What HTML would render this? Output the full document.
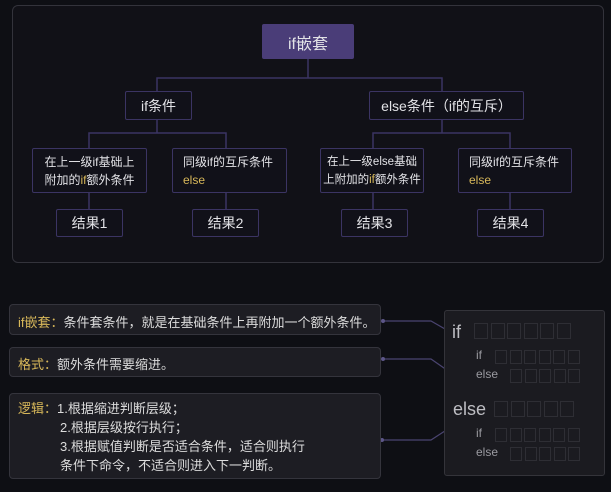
<!DOCTYPE html>
<html><head><meta charset="utf-8"><style>
*{margin:0;padding:0;box-sizing:border-box}
body{width:611px;height:492px;background:#0e0f14;position:relative;overflow:hidden;font-family:"Liberation Sans","Noto Sans CJK SC",sans-serif;color:#e2e2e6}
.a{position:absolute}
.n{position:absolute;border:1.5px solid #3b3463;background:#111119;display:flex;align-items:center;justify-content:center;text-align:center;border-radius:2px;white-space:nowrap}
.y{color:#d8b85a}
.bx{position:absolute;background:#1d1d23;border:1px solid #34343c;border-radius:4px;font-size:13px;color:#dcdcdc}
.sq{display:inline-block;border:1.5px solid #2e2e34;margin-right:2.5px;vertical-align:middle}
.g{color:#9a9aa0}
</style></head><body>
<div class="a" style="left:12px;top:5px;width:592px;height:258px;border:1px solid #33333b;border-radius:6px;background:#111117"></div>
<svg class="a" style="left:0;top:0" width="611" height="492">
<g stroke="#3b3463" stroke-width="1.5" fill="none">
<path d="M308 59V78M157 91V78H442V91"/>
<path d="M157 120V133M89 148V133H226V148"/>
<path d="M442 120V133M373 148V133H510V148"/>
<path d="M89 193V209M226 193V209M373 193V209M510 193V209"/>
</g>
<g stroke="#4a4470" stroke-width="1.2" fill="none">
<path d="M383 321H431L452 333"/>
<path d="M383 359H431L454 375"/>
<path d="M382 440H431L451 427"/>
</g>
<g fill="#5c5688">
<circle cx="383" cy="321" r="2"/><circle cx="452" cy="333" r="2"/>
<circle cx="383" cy="359" r="2"/><circle cx="454" cy="375" r="2"/>
<circle cx="382" cy="440" r="2"/><circle cx="451" cy="427" r="2"/>
</g>
</svg>
<div class="n" style="left:262px;top:24px;width:92px;height:35px;background:#4a3d78;border-color:#4a3d78;font-size:16px">if嵌套</div>
<div class="n" style="left:125px;top:91px;width:67px;height:29px;font-size:14px">if条件</div>
<div class="n" style="left:369px;top:91px;width:155px;height:29px;font-size:14px">else条件（if的互斥）</div>
<div class="n" style="left:32px;top:148px;width:115px;height:45px;font-size:12px;line-height:18px"><div>在上一级if基础上<br>附加的<span class="y">if</span>额外条件</div></div>
<div class="n" style="left:172px;top:148px;width:115px;height:45px;font-size:12px;line-height:18px;justify-content:flex-start;padding-left:10px;text-align:left"><div>同级if的互斥条件<br><span class="y">else</span></div></div>
<div class="n" style="left:320px;top:148px;width:104px;height:45px;font-size:11.5px;line-height:18px"><div>在上一级else基础<br>上附加的<span class="y">if</span>额外条件</div></div>
<div class="n" style="left:458px;top:148px;width:114px;height:45px;font-size:12px;line-height:18px;justify-content:flex-start;padding-left:10px;text-align:left"><div>同级if的互斥条件<br><span class="y">else</span></div></div>
<div class="n" style="left:56px;top:209px;width:67px;height:28px;font-size:14px">结果1</div>
<div class="n" style="left:192px;top:209px;width:67px;height:28px;font-size:14px">结果2</div>
<div class="n" style="left:341px;top:209px;width:67px;height:28px;font-size:14px">结果3</div>
<div class="n" style="left:477px;top:209px;width:67px;height:28px;font-size:14px">结果4</div>

<div class="bx" style="left:9px;top:304px;width:372px;height:31px;padding:7px 0 0 8px"><span class="y">if嵌套：</span>条件套条件，就是在基础条件上再附加一个额外条件。</div>
<div class="bx" style="left:9px;top:347px;width:372px;height:30px;padding:6px 0 0 8px"><span class="y">格式：</span>额外条件需要缩进。</div>
<div class="bx" style="left:9px;top:393px;width:372px;height:86px;padding:5px 0 0 8px;line-height:19px"><span class="y">逻辑：</span>1.根据缩进判断层级；<br><span style="padding-left:42px">2.根据层级按行执行；</span><br><span style="padding-left:42px">3.根据赋值判断是否适合条件，适合则执行</span><br><span style="padding-left:42px">条件下命令，不适合则进入下一判断。</span></div>

<div class="a" style="left:444px;top:310px;width:161px;height:166px;background:#1b1b20;border:1px solid #34343a;border-radius:3px"></div>
<div class="a g" style="left:452px;top:322px;font-size:18px;color:#bdbdc2">if</div>
<div class="a" style="left:474px;top:322px"><span class="sq" style="width:14px;height:16px"></span><span class="sq" style="width:14px;height:16px"></span><span class="sq" style="width:14px;height:16px"></span><span class="sq" style="width:14px;height:16px"></span><span class="sq" style="width:14px;height:16px"></span><span class="sq" style="width:14px;height:16px"></span></div>
<div class="a g" style="left:476px;top:348px;font-size:12px">if</div>
<div class="a" style="left:495px;top:348px"><span class="sq" style="width:12px;height:14px"></span><span class="sq" style="width:12px;height:14px"></span><span class="sq" style="width:12px;height:14px"></span><span class="sq" style="width:12px;height:14px"></span><span class="sq" style="width:12px;height:14px"></span><span class="sq" style="width:12px;height:14px"></span></div>
<div class="a g" style="left:476px;top:367px;font-size:12px">else</div>
<div class="a" style="left:510px;top:367px"><span class="sq" style="width:12px;height:14px"></span><span class="sq" style="width:12px;height:14px"></span><span class="sq" style="width:12px;height:14px"></span><span class="sq" style="width:12px;height:14px"></span><span class="sq" style="width:12px;height:14px"></span></div>
<div class="a g" style="left:453px;top:399px;font-size:18px;color:#bdbdc2">else</div>
<div class="a" style="left:494px;top:400px"><span class="sq" style="width:14px;height:16px"></span><span class="sq" style="width:14px;height:16px"></span><span class="sq" style="width:14px;height:16px"></span><span class="sq" style="width:14px;height:16px"></span><span class="sq" style="width:14px;height:16px"></span></div>
<div class="a g" style="left:476px;top:426px;font-size:12px">if</div>
<div class="a" style="left:495px;top:426px"><span class="sq" style="width:12px;height:14px"></span><span class="sq" style="width:12px;height:14px"></span><span class="sq" style="width:12px;height:14px"></span><span class="sq" style="width:12px;height:14px"></span><span class="sq" style="width:12px;height:14px"></span><span class="sq" style="width:12px;height:14px"></span></div>
<div class="a g" style="left:476px;top:445px;font-size:12px">else</div>
<div class="a" style="left:510px;top:445px"><span class="sq" style="width:12px;height:14px"></span><span class="sq" style="width:12px;height:14px"></span><span class="sq" style="width:12px;height:14px"></span><span class="sq" style="width:12px;height:14px"></span><span class="sq" style="width:12px;height:14px"></span></div>
</body></html>
